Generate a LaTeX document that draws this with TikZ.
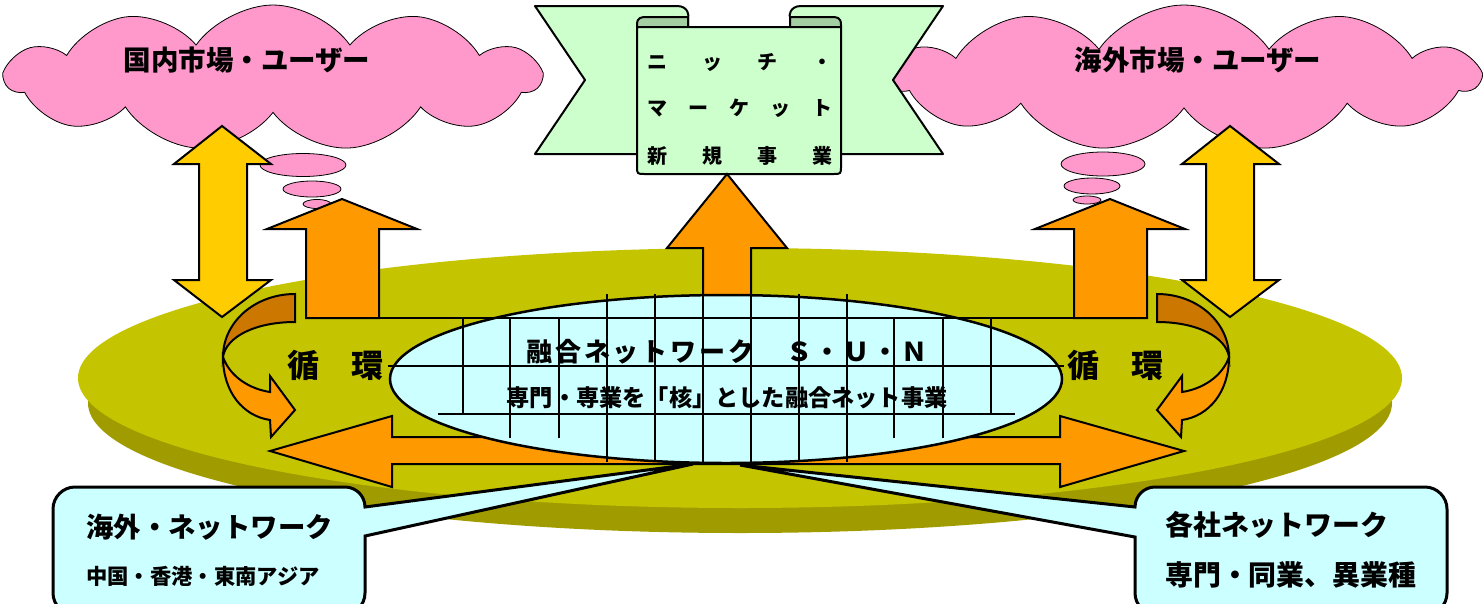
\documentclass[tikz,border=0pt]{standalone}
\usepackage{fontspec}
\newfontfamily\jp{Noto Sans CJK JP}
\newfontfamily\jpls{Noto Sans CJK JP}[LetterSpace=11]
\usetikzlibrary{shapes.symbols}
\newcommand\fsz[1]{\fontsize{#1}{#1}\selectfont}
\definecolor{cOlive}{RGB}{196,196,0}
\definecolor{cRim}{RGB}{160,156,0}
\definecolor{cPink}{RGB}{255,153,204}
\definecolor{cYel}{RGB}{255,204,0}
\definecolor{cOr}{RGB}{255,153,0}
\definecolor{cDkOr}{RGB}{204,119,0}
\definecolor{cLG}{RGB}{204,255,204}
\definecolor{cFold}{RGB}{163,207,163}
\definecolor{cCyan}{RGB}{204,255,255}
\tikzset{
  pinkcloud/.style={cloud, cloud puffs=11, cloud puff arc=110, aspect=3.6, draw=black, line width=0.8pt, fill=cPink, inner sep=0pt},
  bub/.style={draw=black, line width=0.8pt, fill=cPink},
  rib/.style={draw=black, line width=2pt, fill=cLG, line join=round},
  fold/.style={draw=black, line width=2pt, fill=cFold, line join=round},
  orar/.style={draw=black, line width=2pt, fill=cOr, line join=miter},
  yelar/.style={draw=black, line width=2pt, fill=cYel, line join=miter},
  dkar/.style={draw=black, line width=2pt, fill=cDkOr, line join=miter},
  cyel/.style={draw=black, line width=2.5pt, fill=cCyan},
  gridln/.style={draw=black, line width=1.5pt},
  callout/.style={draw=black, line width=3pt, fill=cCyan, line join=miter},
  jt/.style={inner sep=0pt, text=black}
}
\begin{document}
\begin{tikzpicture}[x=1pt,y=-1pt]
\useasboundingbox (0,0) rectangle (1483,603);
\clip (0,0) rectangle (1483,603);
\fill[white] (0,0) rectangle (1483,603);

% olive disc
\fill[cRim] (740,403) ellipse [x radius=652, y radius=130];
\fill[cOlive] (740,378) ellipse [x radius=662, y radius=130];

% clouds
\node[pinkcloud, minimum width=534, minimum height=146] (cloudL) at (273,78) {};
\node[pinkcloud, minimum width=588, minimum height=146] (cloudR) at (1184,78) {};
\filldraw[bub] (303,165) ellipse [x radius=43, y radius=11.5];
\filldraw[bub] (312,189) ellipse [x radius=29, y radius=8];
\filldraw[bub] (317,204) ellipse [x radius=14, y radius=4.5];
\filldraw[bub] (1103,164) ellipse [x radius=42, y radius=12];
\filldraw[bub] (1092,186) ellipse [x radius=28, y radius=8];
\filldraw[bub] (1087,200) ellipse [x radius=14, y radius=4];

% ribbon
\filldraw[rib] (535,6) -- (677,6) .. controls (689,6) and (689,17) .. (688,17) -- (688,154) -- (535,154) -- (585,80) -- cycle;
\filldraw[rib] (943,6) -- (801,6) .. controls (789,6) and (789,17) .. (790,17) -- (790,154) -- (943,154) -- (893,80) -- cycle;
\filldraw[fold] (637,27) -- (637,25) .. controls (637,17) and (641,17) .. (648,17) -- (688,17) -- (688,27) -- cycle;
\filldraw[fold] (841,27) -- (841,25) .. controls (841,17) and (837,17) .. (830,17) -- (790,17) -- (790,27) -- cycle;
\filldraw[rib] (637,27) -- (637,166) .. controls (637,174) .. (645,174) -- (833,174) .. controls (841,174) .. (841,166) -- (841,27) -- cycle;

% orange up arrows
\filldraw[orar] (342,199) -- (417,229) -- (379,229) -- (379,318) -- (306,318) -- (306,229) -- (267,229) -- cycle;
\filldraw[orar] (1110,199) -- (1185,229) -- (1147,229) -- (1147,318) -- (1074,318) -- (1074,229) -- (1035,229) -- cycle;
\filldraw[orar] (727,174) -- (787,248) -- (751,248) -- (751,305) -- (703,305) -- (703,248) -- (667,248) -- cycle;

% yellow double arrows
\filldraw[yelar] (222,126) -- (271,164) -- (247,164) -- (247,280) -- (271,280) -- (222,317) -- (174,280) -- (199,280) -- (199,164) -- (174,164) -- cycle;
\filldraw[yelar] (1230,126) -- (1279,164) -- (1254,164) -- (1254,280) -- (1279,280) -- (1230,317) -- (1182,280) -- (1206,280) -- (1206,164) -- (1182,164) -- cycle;

% curved arrows
\filldraw[dkar] (295,294) -- (295,322) .. controls (255,322) and (226,337) .. (223,357) .. controls (223,322) and (255,294) .. (295,294) -- cycle;
\filldraw[orar] (223,357) .. controls (223,392) and (243,416) .. (270,420) -- (271,437) -- (295,410) -- (270,376) -- (270,392) .. controls (250,389) and (230,377) .. (223,357) -- cycle;
\filldraw[dkar] (1157,294) -- (1157,322) .. controls (1197,322) and (1226,337) .. (1229,357) .. controls (1229,322) and (1197,294) .. (1157,294) -- cycle;
\filldraw[orar] (1229,357) .. controls (1229,392) and (1209,416) .. (1182,420) -- (1181,437) -- (1157,410) -- (1182,376) -- (1182,392) .. controls (1202,389) and (1222,377) .. (1229,357) -- cycle;

% horizontal double arrow
\filldraw[orar] (270,451) -- (392,416) -- (392,437) -- (1060,437) -- (1060,416) -- (1184,451) -- (1060,487) -- (1060,464) -- (392,464) -- (392,487) -- cycle;

% central ellipse and grid
\filldraw[cyel] (726,379) ellipse [x radius=336, y radius=84];
\draw[gridln] (379,318) -- (1074,318);
\draw[gridln] (388,366) -- (1064,366);
\draw[gridln] (438,414) -- (1015,414);
\foreach \gx in {463,991} {\draw[gridln] (\gx,318) -- (\gx,414);}
\foreach \gx in {510,559,894,943} {\draw[gridln] (\gx,318) -- (\gx,438);}
\foreach \gx in {607,655,703,751,799,847} {\draw[gridln] (\gx,294) -- (\gx,462);}

% callouts
\filldraw[callout] (365,507) -- (693,464) -- (365,536) -- (365,593) .. controls (365,605) and (355,615) .. (343,615) -- (75,615) .. controls (63,615) and (53,605) .. (53,593) -- (53,509) .. controls (53,497) and (63,487) .. (75,487) -- (345,487) .. controls (356,487) and (365,496) .. (365,507) -- cycle;
\filldraw[callout] (1135,507) -- (740,465) -- (1135,537) -- (1135,593) .. controls (1135,605) and (1145,615) .. (1157,615) -- (1425,615) .. controls (1437,615) and (1447,605) .. (1447,593) -- (1447,509) .. controls (1447,497) and (1437,487) .. (1425,487) -- (1155,487) .. controls (1144,487) and (1135,496) .. (1135,507) -- cycle;

% texts
\node[jt, font={\jp\bfseries\fsz{27.5}}] (tCL) at (247,60) {国内市場・ユーザー};
\node[jt, font={\jp\bfseries\fsz{27.5}}] (tCR) at (1198,60) {海外市場・ユーザー};
\node[jt, font={\jp\bfseries\fsz{20}}] (tR1) at (739.5,62) {\makebox[185pt]{ニ\hfill ッ\hfill チ\hfill ・}};
\node[jt, font={\jp\bfseries\fsz{20}}] (tR2) at (739.5,108) {\makebox[185pt]{マ\hfill ー\hfill ケ\hfill ッ\hfill ト}};
\node[jt, font={\jp\bfseries\fsz{20}}] (tR3) at (739.5,156) {\makebox[185pt]{新\hfill 規\hfill 事\hfill 業}};
\node[jt, font={\jpls\bfseries\fsz{26}}] (tN1) at (727,352) {融合ネットワーク　Ｓ・Ｕ・Ｎ};
\node[jt, font={\jp\bfseries\fsz{23.2}}] (tN2) at (727,398) {専門・専業を「核」とした融合ネット事業};
\node[jt, font={\jp\bfseries\fsz{32}}] (tJL) at (335,365) {循　環};
\node[jt, font={\jp\bfseries\fsz{32}}] (tJR) at (1115,365) {循　環};
\node[jt, anchor=west, font={\jp\bfseries\fsz{27.4}}] (tB1) at (86,527) {海外・ネットワーク};
\node[jt, anchor=west, font={\jp\bfseries\fsz{21.3}}] (tB2) at (86,576) {中国・香港・東南アジア};
\node[jt, anchor=west, font={\jp\bfseries\fsz{27.9}}] (tB3) at (1165,525) {各社ネットワーク};
\node[jt, anchor=west, font={\jp\bfseries\fsz{27.9}}] (tB4) at (1165,575) {専門・同業、異業種};
\end{tikzpicture}
\end{document}
